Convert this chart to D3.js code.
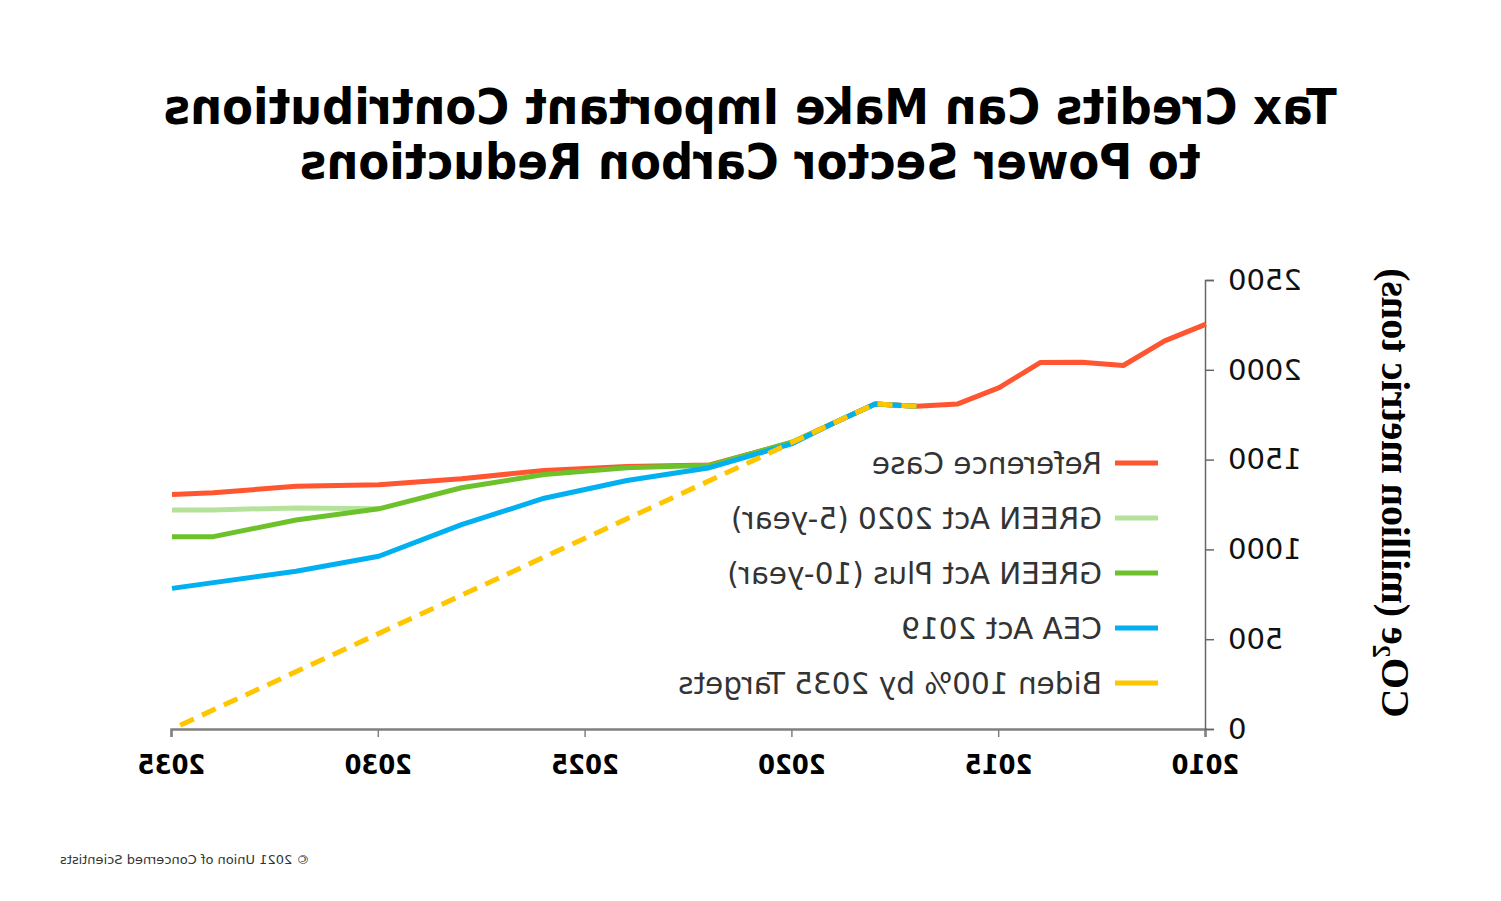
<!DOCTYPE html>
<html>
<head>
<meta charset="utf-8">
<script src="https://cdn.jsdelivr.net/npm/d3@7"></script>
<style>
  html, body { margin: 0; padding: 0; background: #fff; }
  svg { display: block; }
</style>
</head>
<body>
<svg id="chart" width="1501" height="901"></svg>
<script>
// ---- data ----
const xTicks = [2010, 2015, 2020, 2025, 2030, 2035];
const yTicks = [0, 500, 1000, 1500, 2000, 2500];

const refYears  = [2010, 2011, 2012, 2013, 2014, 2015, 2016, 2017, 2018, 2019, 2020, 2022, 2024, 2026, 2028, 2030, 2032, 2034, 2035];
const refValues = [2254, 2161, 2024, 2042, 2041, 1901, 1810, 1797, 1810, 1704, 1596, 1470, 1462, 1440, 1393, 1360, 1352, 1315, 1306];

const green5Years  = [2030, 2032, 2034, 2035];
const green5Values = [1226, 1231, 1220, 1220];

const green10Years  = [2017, 2018, 2019, 2020, 2022, 2024, 2026, 2028, 2030, 2032, 2034, 2035];
const green10Values = [1797, 1810, 1704, 1598, 1468, 1455, 1417, 1343, 1226, 1164, 1071, 1071];

const ceaYears  = [2017, 2018, 2019, 2020, 2022, 2024, 2026, 2028, 2030, 2032, 2034, 2035];
const ceaValues = [1797, 1810, 1704, 1589, 1455, 1384, 1285, 1138, 962, 878, 815, 783];

const bidenYears  = [2017, 2018, 2019, 2020, 2035];
const bidenValues = [1797, 1810, 1704, 1596, 0];

const seriesNames  = ["Reference Case", "GREEN Act 2020 (5-year)", "GREEN Act Plus (10-year)", "CEA Act 2019", "Biden 100% by 2035 Targets"];
const seriesColors = ["#FF5530", "#B5E29B", "#6DC22C", "#00B0F0", "#FFC600"];

const titleLines = ["Tax Credits Can Make Important Contributions", "to Power Sector Carbon Reductions"];
const copyright = "\u00A9 2021 Union of Concerned Scientists";

// ---- drawing ----
const svg = d3.select("#chart");
// the reference is a horizontally mirrored image
const root = svg.append("g").attr("transform", "translate(1501,0) scale(-1,1)");

const x = d3.scaleLinear().domain([2010, 2035]).range([295, 1329]);
const y = d3.scaleLinear().domain([0, 2500]).range([729, 280]);

// title
root.append("text")
  .attr("x", 751).attr("text-anchor", "middle")
  .attr("font-family", "'DejaVu Sans Condensed', 'DejaVu Sans', sans-serif")
  .attr("font-weight", "bold").attr("font-size", 50).attr("fill", "#000")
  .selectAll("tspan").data(titleLines).join("tspan")
  .attr("x", 751).attr("y", (d, i) => 124 + i * 55).text(d => d);

// axes
const xAxis = root.append("g").attr("transform", `translate(0,${y(0)})`)
  .call(d3.axisBottom(x).tickValues(xTicks).tickFormat(d3.format("d")).tickSize(8).tickPadding(18));
xAxis.select(".domain").attr("stroke", "#808080").attr("stroke-width", 2.5);
xAxis.selectAll(".tick line").attr("stroke", "#808080").attr("stroke-width", 1.5);
xAxis.selectAll(".tick text")
  .attr("font-family", "'DejaVu Sans Condensed', 'DejaVu Sans', sans-serif")
  .attr("font-weight", "bold").attr("font-size", 27).attr("fill", "#000");

const yAxis = root.append("g").attr("transform", `translate(${x(2010)},0)`)
  .call(d3.axisLeft(y).tickValues(yTicks).tickFormat(d3.format("d")).tickSize(8).tickPadding(14));
yAxis.select(".domain").attr("stroke", "#666").attr("stroke-width", 1.5);
yAxis.selectAll(".tick line").attr("stroke", "#666").attr("stroke-width", 1.5);
yAxis.selectAll(".tick text")
  .attr("font-family", "'DejaVu Sans', sans-serif")
  .attr("font-size", 29).attr("fill", "#111");

// y-axis title
const yt = root.append("text")
  .attr("transform", "translate(119,493) rotate(-90)")
  .attr("text-anchor", "middle")
  .attr("font-family", "'Liberation Serif', 'Times New Roman', serif")
  .attr("font-weight", "bold").attr("font-size", 40).attr("fill", "#000");
yt.append("tspan").text("CO");
yt.append("tspan").attr("font-size", 26).attr("dy", 9).text("2");
yt.append("tspan").attr("dy", -9).text("e (million metric tons)");

// lines
const line = d3.line().x(d => x(d[0])).y(d => y(d[1]));
const zip = (a, b) => a.map((v, i) => [v, b[i]]);
const series = [
  zip(refYears, refValues),
  zip(green5Years, green5Values),
  zip(green10Years, green10Values),
  zip(ceaYears, ceaValues),
  zip(bidenYears, bidenValues)
];
root.append("g").selectAll("path").data(series).join("path")
  .attr("d", line)
  .attr("fill", "none")
  .attr("stroke", (d, i) => seriesColors[i])
  .attr("stroke-width", 5)
  .attr("stroke-linejoin", "round")
  .attr("stroke-dasharray", (d, i) => i === 4 ? "15,9" : null);

// legend
const lg = root.append("g").selectAll("g").data(seriesNames).join("g")
  .attr("transform", (d, i) => `translate(343,${463 + i * 55})`);
lg.append("line").attr("x1", 0).attr("x2", 43).attr("y1", 0).attr("y2", 0)
  .attr("stroke", (d, i) => seriesColors[i]).attr("stroke-width", 5);
lg.append("text").attr("x", 56).attr("y", 10.5)
  .attr("font-family", "'DejaVu Sans', sans-serif")
  .attr("font-size", 29.5).attr("fill", "#333").text(d => d);

// copyright
root.append("text").attr("x", 1441).attr("y", 864).attr("text-anchor", "end")
  .attr("font-family", "'DejaVu Sans', sans-serif")
  .attr("font-size", 13).attr("fill", "#333").text(copyright);
</script>
</body>
</html>
